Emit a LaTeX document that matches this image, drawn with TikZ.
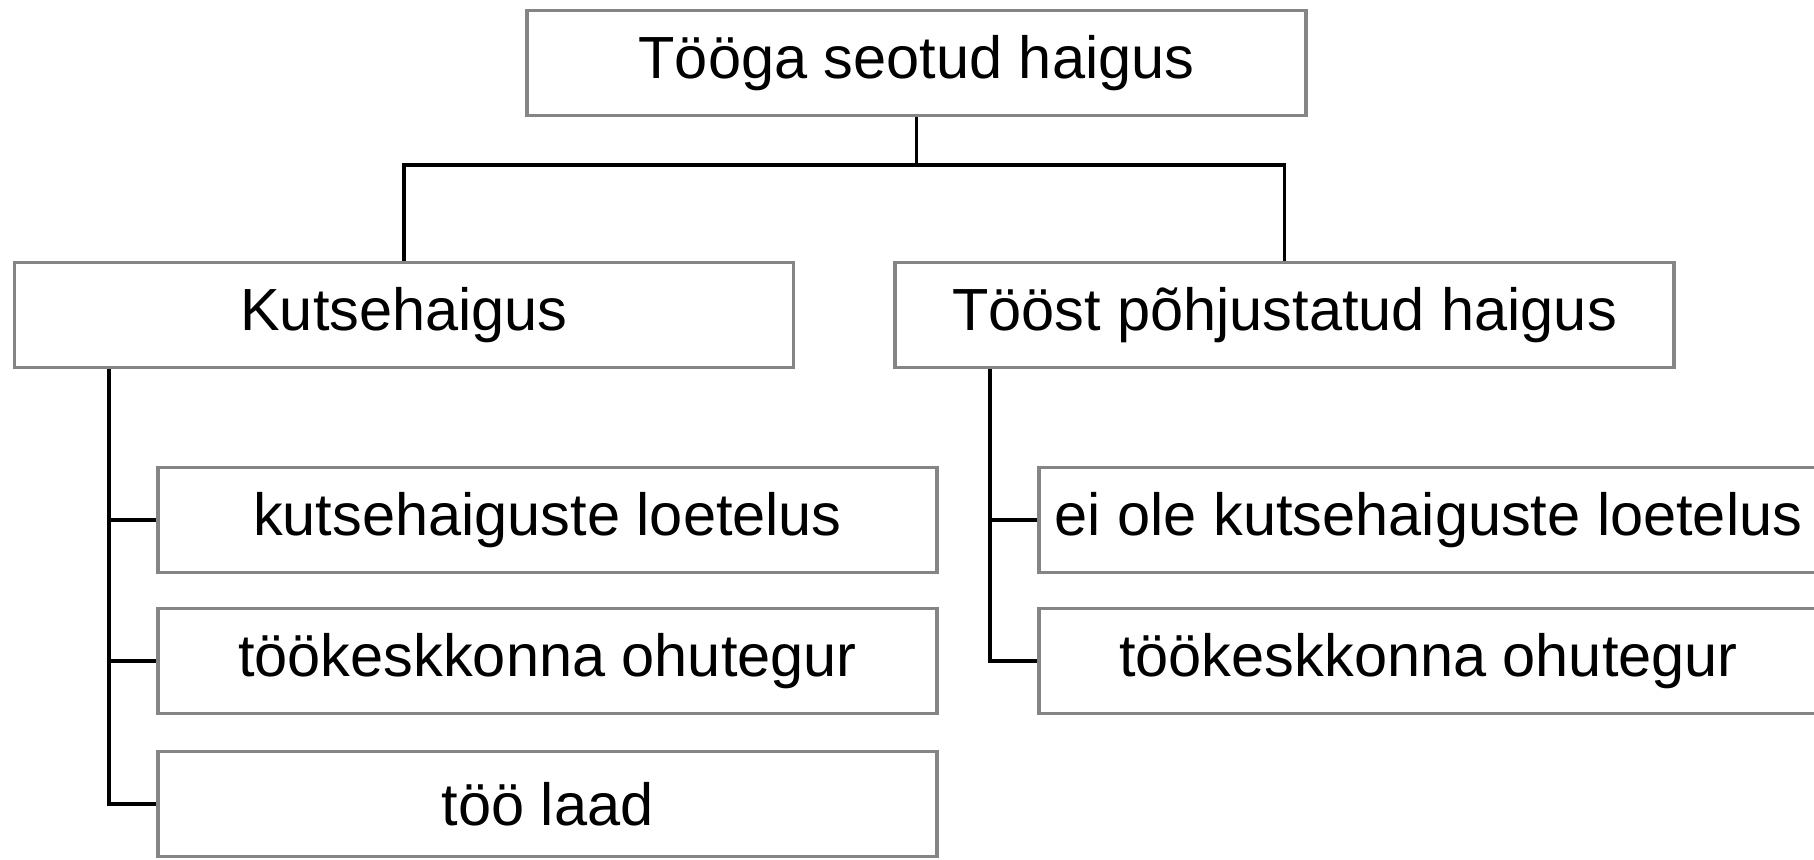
\documentclass[tikz,border=0pt]{standalone}
\usepackage{fontspec}
\setmainfont{Liberation Sans}
\begin{document}
\begin{tikzpicture}[x=1pt,y=-1pt,
  box/.style={draw=black!48,line width=3.5pt,fill=white,minimum width=779pt,minimum height=105pt,inner sep=0pt,font=\fontsize{59.5}{70}\selectfont},
  conn/.style={draw=black,line width=3.5pt}]
\useasboundingbox (0,0) rectangle (1814,859);
\begin{scope}
\clip (0,0) rectangle (1814,859);
\node[box] (top) at (916.5,63) {Tööga seotud haigus};
\node[box] (kh) at (404,315) {Kutsehaigus};
\node[box] (tp) at (1284.5,315) {Tööst põhjustatud haigus};
\node[box] (c1) at (547.5,520) {kutsehaiguste loetelus};
\node[box] (c2) at (547.5,661) {töökeskkonna ohutegur};
\node[box] (c3) at (547.5,804) {töö laad};
\node[box] (d1) at (1428.5,520) {ei ole kutsehaiguste loetelus};
\node[box] (d2) at (1428.5,661) {töökeskkonna ohutegur};
\coordinate (bar) at (916.5,165);
\coordinate (lt) at (109,0);
\coordinate (rt) at (990,0);
\draw[conn] (top.south) -- (bar);
\draw[conn] (kh.north) |- (bar) -| (tp.north);
\draw[conn] (kh.south -| lt) |- (c3.west);
\draw[conn] (c1.west -| lt) -- (c1.west);
\draw[conn] (c2.west -| lt) -- (c2.west);
\draw[conn] (tp.south -| rt) |- (d2.west);
\draw[conn] (d1.west -| rt) -- (d1.west);
\end{scope}
\end{tikzpicture}
\end{document}
